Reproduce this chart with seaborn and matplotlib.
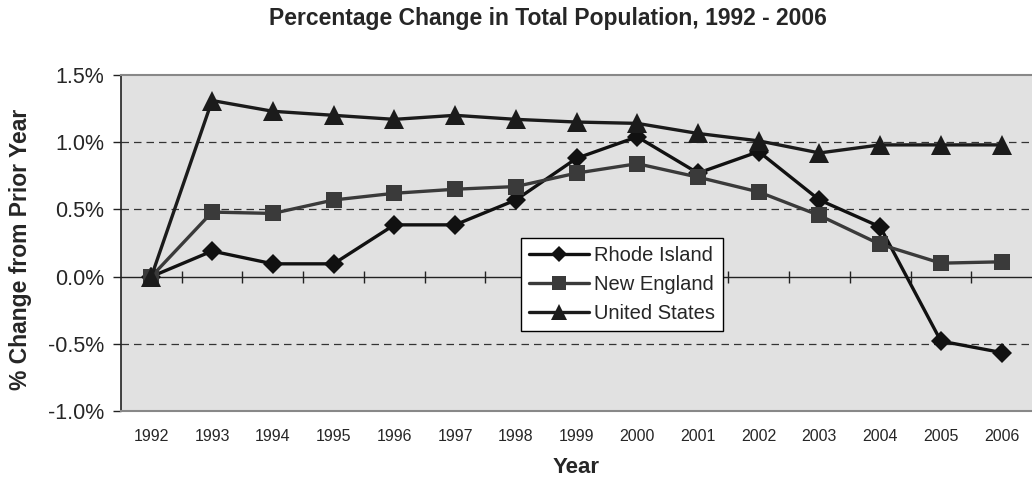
#!/usr/bin/env python3
"""Percentage change in total population, 1992 - 2006 (RI vs New England vs US)."""

import numpy as np
import pandas as pd
import seaborn as sns
import matplotlib.pyplot as plt
from matplotlib.ticker import FuncFormatter

years = list(range(1992, 2007))
regions = ['Rhode Island', 'New England', 'United States']

# values in percent
rhode_island = [0.0, 0.19, 0.095, 0.095, 0.385, 0.385, 0.57, 0.88, 1.04, 0.77, 0.93, 0.57, 0.37, -0.48, -0.565]
new_england = [0.0, 0.48, 0.47, 0.57, 0.62, 0.65, 0.67, 0.77, 0.84, 0.74, 0.63, 0.455, 0.24, 0.10, 0.11]
united_states = [0.0, 1.31, 1.23, 1.20, 1.17, 1.20, 1.17, 1.15, 1.14, 1.065, 1.01, 0.92, 0.98, 0.98, 0.98]

y_ticks = [-1.0, -0.5, 0.0, 0.5, 1.0, 1.5]

colors = {'Rhode Island': '#111111', 'New England': '#3a3a3a', 'United States': '#1b1b1b'}
markers = {'Rhode Island': 'D', 'New England': 's', 'United States': '^'}
marker_sizes = {'Rhode Island': 10.5, 'New England': 12, 'United States': 14}

df = pd.DataFrame({
    'Year': years * 3,
    'Change': rhode_island + new_england + united_states,
    'Region': [r for r in regions for _ in years],
})

sns.set_style('white')
plt.rcParams['font.family'] = ['Liberation Sans', 'DejaVu Sans']

fig = plt.figure(figsize=(10.32, 4.87), dpi=100)
ax = fig.add_axes([121 / 1032, 1 - 411 / 487, 911 / 1032, 336 / 487])
ax.set_facecolor('#e1e1e1')

# gridlines
for v in [-0.5, 0.5, 1.0]:
    ax.axhline(v, color='#333333', lw=0.9, ls=(0, (6, 4)), zorder=1)
ax.axhline(0, color='#222222', lw=1.0, zorder=1)
bounds = np.arange(years[0] + 0.5, years[-1], 1.0)
ax.vlines(bounds, -0.045, 0.045, color='#222222', lw=1.0, zorder=1)

for r in regions:
    sub = df[df['Region'] == r]
    sns.lineplot(data=sub, x='Year', y='Change', ax=ax, color=colors[r],
                 marker=markers[r], markersize=marker_sizes[r],
                 markeredgewidth=0, linewidth=2.4, label=r, zorder=3)

ax.set_xlim(years[0] - 0.5, years[-1] + 0.5)
ax.set_ylim(-1.0, 1.5)
ax.set_xticks(years)
ax.set_xticklabels([str(y) for y in years], fontsize=11.5)
ax.set_yticks(y_ticks)
ax.yaxis.set_major_formatter(FuncFormatter(lambda v, p: f'{v:.1f}%'))
ax.tick_params(axis='y', labelsize=15.5, length=6, width=1, color='#222222', left=True, pad=6)
ax.tick_params(axis='x', length=0, pad=13)

for s in ['top', 'bottom']:
    ax.spines[s].set_color('#888888')
    ax.spines[s].set_linewidth(1.5)
ax.spines['left'].set_color('#222222')
ax.spines['left'].set_linewidth(1.2)
ax.spines['right'].set_visible(False)

ax.set_xlabel('Year', fontsize=16, fontweight='bold', labelpad=9)
ax.set_ylabel('% Change from Prior Year', fontsize=16.5, fontweight='bold')
ax.yaxis.set_label_coords(-0.098, 0.482)
fig.text(548 / 1032, 1 - 18 / 487, 'Percentage Change in Total Population, 1992 - 2006',
         ha='center', va='center', fontsize=16.5, fontweight='bold')

leg = ax.legend(loc='upper left', bbox_to_anchor=(0.439, 0.515), fontsize=14.5,
                frameon=True, fancybox=False, framealpha=1, edgecolor='black',
                borderaxespad=0, borderpad=0.4, handlelength=3.0, handletextpad=0.25,
                labelspacing=0.5, markerscale=0.8)
leg.get_frame().set_linewidth(1.0)
leg.set_zorder(5)

fig.savefig('out.png', dpi=100)
